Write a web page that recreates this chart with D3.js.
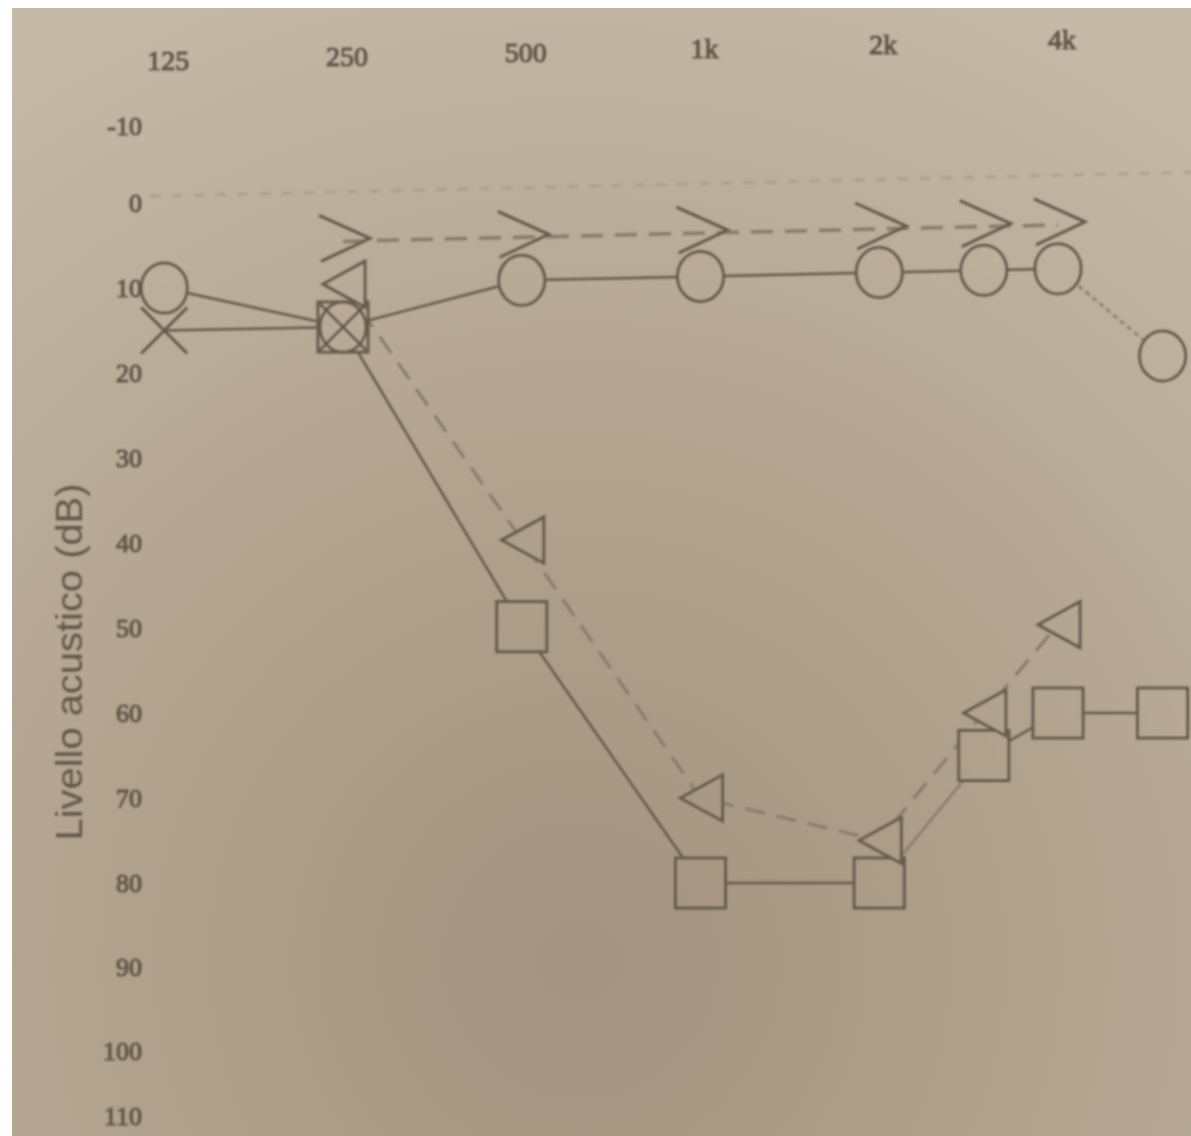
<!DOCTYPE html>
<html>
<head>
<meta charset="utf-8">
<script src="https://cdn.jsdelivr.net/npm/d3@7"></script>
<style>
  html, body { margin: 0; padding: 0; background: #ffffff; }
  svg { display: block; }
</style>
</head>
<body>
<svg id="chart" width="1191" height="1136"></svg>
<script>
// ---- data ----
const freqs = [125, 250, 500, 1000, 2000, 3000, 4000, 6000];
const tickFreqs = [125, 250, 500, 1000, 2000, 4000];
const tickLabels = ["125", "250", "500", "1k", "2k", "4k"];
const dbTicks = [-10, 0, 10, 20, 30, 40, 50, 60, 70, 80, 90, 100, 110];
const yLabel = "Livello acustico (dB)";
// right ear air conduction (circles)
const rightAir = [10, 15, 10, 10, 10, 10, 10, 20];
// left ear air conduction, unmasked (crosses)
const leftAir = [15, 15, null, null, null, null, null, null];
// left ear air conduction, masked (squares)
const leftAirMasked = [null, 15, 50, 80, 80, 65, 60, 60];
// left bone conduction (triangles)
const leftBone = [null, 10, 40, 70, 75, 60, 50, null];
// right bone conduction (carets)
const rightBone = [null, 5, 5, 5, 5, 5, 5, null];

// ---- setup ----
const W = 1191, H = 1136;
const svg = d3.select("#chart");
const defs = svg.append("defs");
const grad = defs.append("radialGradient")
  .attr("id", "bg").attr("gradientUnits", "userSpaceOnUse")
  .attr("cx", 580).attr("cy", 960).attr("r", 1050);
grad.append("stop").attr("offset", "0%").attr("stop-color", "#a39380");
grad.append("stop").attr("offset", "45%").attr("stop-color", "#b0a28d");
grad.append("stop").attr("offset", "100%").attr("stop-color", "#c5b9a7");
const blur = defs.append("filter").attr("id", "soft");
blur.append("feGaussianBlur").attr("stdDeviation", 0.9);

svg.append("rect").attr("x", 0).attr("y", 0).attr("width", W).attr("height", H).attr("fill", "#ffffff");
svg.append("rect").attr("x", 12).attr("y", 8).attr("width", W - 12).attr("height", H - 8).attr("fill", "url(#bg)");

// scales (piecewise y to follow the photographed sheet)
const x = d3.scaleLog().base(2).domain([250, 4000]).range([343, 1058]);
const y = d3.scaleLinear().domain([-10, 0, 80, 100, 110]).range([126, 203, 883, 1051, 1116]);

// keystone of the photo: upper right part of the sheet is lifted
function proj(px, py) {
  const f = Math.max(0, Math.min(1.05, (700 - py) / 420));
  return [px, py - 0.022 * f * (px - 165)];
}

const g = svg.append("g").attr("filter", "url(#soft)");
const ink = "#655a4c";
const lightInk = "#877c6d";
const textInk = "#62574a";
const serif = "'Liberation Serif', 'DejaVu Serif', serif";

// 0 dB reference line
const z0 = proj(150, y(0) - 7), z1 = proj(W, y(0) - 7);
g.append("line")
  .attr("x1", z0[0]).attr("y1", z0[1]).attr("x2", z1[0]).attr("y2", z1[1])
  .attr("stroke", "#a99e8e").attr("stroke-width", 2.5).attr("stroke-dasharray", "10,12");

// frequency labels (top axis)
const xAxis = d3.axisTop(x).tickValues(tickFreqs)
  .tickFormat((d, i) => tickLabels[i]).tickSize(0).tickPadding(0);
const xa = g.append("g").attr("transform", "translate(0,70)").call(xAxis);
xa.select(".domain").remove();
xa.selectAll(".tick").attr("transform", d => {
  const p = proj(x(d), 70);
  return `translate(${p[0] + 4},${p[1] - 70})`;
});
xa.selectAll("text").attr("font-family", serif).attr("font-size", 28)
  .attr("fill", textInk).attr("stroke", textInk).attr("stroke-width", 1.1);

// dB labels
const yAxis = d3.axisLeft(y).tickValues(dbTicks).tickFormat(d => String(d)).tickSize(0).tickPadding(0);
const ya = g.append("g").attr("transform", "translate(142,0)").call(yAxis);
ya.select(".domain").remove();
ya.selectAll("text").attr("font-family", serif).attr("font-size", 26)
  .attr("fill", textInk).attr("stroke", textInk).attr("stroke-width", 1.1);

// y axis title
g.append("text")
  .attr("transform", "translate(82,662) rotate(-90)")
  .attr("text-anchor", "middle")
  .attr("font-family", "'Liberation Sans', sans-serif")
  .attr("font-size", 36)
  .attr("textLength", 357).attr("lengthAdjust", "spacingAndGlyphs")
  .attr("fill", textInk)
  .text(yLabel);

// ---- lines ----
function pts(arr) { return freqs.map((f, i) => arr[i] == null ? null : proj(x(f), y(arr[i]))); }
const line = d3.line().defined(d => d != null);

function drawSeg(arr, from, to, stroke, width, dash) {
  const p = pts(arr).slice(from, to + 1);
  g.append("path").attr("d", line(p)).attr("fill", "none")
    .attr("stroke", stroke).attr("stroke-width", width)
    .attr("stroke-dasharray", dash || null);
}
// caret (right bone) dashed
drawSeg(rightBone, 1, 6, lightInk, 3.5, "22,12");
// triangles dashed
drawSeg(leftBone, 1, 6, lightInk, 3, "20,12");
// squares
drawSeg(leftAirMasked, 1, 4, ink, 2.5);
drawSeg(leftAirMasked, 4, 5, lightInk, 2.5);
drawSeg(leftAirMasked, 5, 7, ink, 2.5);
// crosses
drawSeg(leftAir, 0, 1, ink, 2.5);
// circles
drawSeg(rightAir, 0, 6, ink, 2.5);
drawSeg(rightAir, 6, 7, lightInk, 2.5, "5,4");

// ---- symbols ----
const data = (arr) => freqs.map((f, i) => {
  if (arr[i] == null) return null;
  const p = proj(x(f), y(arr[i]));
  return { cx: p[0], cy: p[1] };
}).filter(d => d != null);

// squares
g.selectAll(".sq").data(data(leftAirMasked)).enter().append("rect")
  .attr("x", d => d.cx - 25).attr("y", d => d.cy - 25)
  .attr("width", 50).attr("height", 50)
  .attr("fill", "url(#bg)").attr("stroke", ink).attr("stroke-width", 3);

// circles
g.selectAll(".ci").data(data(rightAir)).enter().append("ellipse")
  .attr("cx", d => d.cx).attr("cy", d => d.cy)
  .attr("rx", 23).attr("ry", 25)
  .attr("fill", "url(#bg)").attr("stroke", ink).attr("stroke-width", 3);

// crosses
g.selectAll(".cr").data(data(leftAir)).enter().append("path")
  .attr("d", d => { const s = 23;
    return `M${d.cx - s},${d.cy - s}L${d.cx + s},${d.cy + s}M${d.cx + s},${d.cy - s}L${d.cx - s},${d.cy + s}`; })
  .attr("fill", "none").attr("stroke", ink).attr("stroke-width", 3);

// triangles (pointing left)
g.selectAll(".tr").data(data(leftBone)).enter().append("path")
  .attr("d", d => `M${d.cx + 22},${d.cy - 23}L${d.cx - 20},${d.cy}L${d.cx + 22},${d.cy + 23}Z`)
  .attr("fill", "url(#bg)").attr("stroke", ink).attr("stroke-width", 3);

// carets ">"
g.selectAll(".ca").data(data(rightBone)).enter().append("path")
  .attr("d", d => `M${d.cx - 24},${d.cy - 26}L${d.cx + 27},${d.cy - 3}L${d.cx - 22},${d.cy + 20}`)
  .attr("fill", "none").attr("stroke", ink).attr("stroke-width", 3);
</script>
</body>
</html>
